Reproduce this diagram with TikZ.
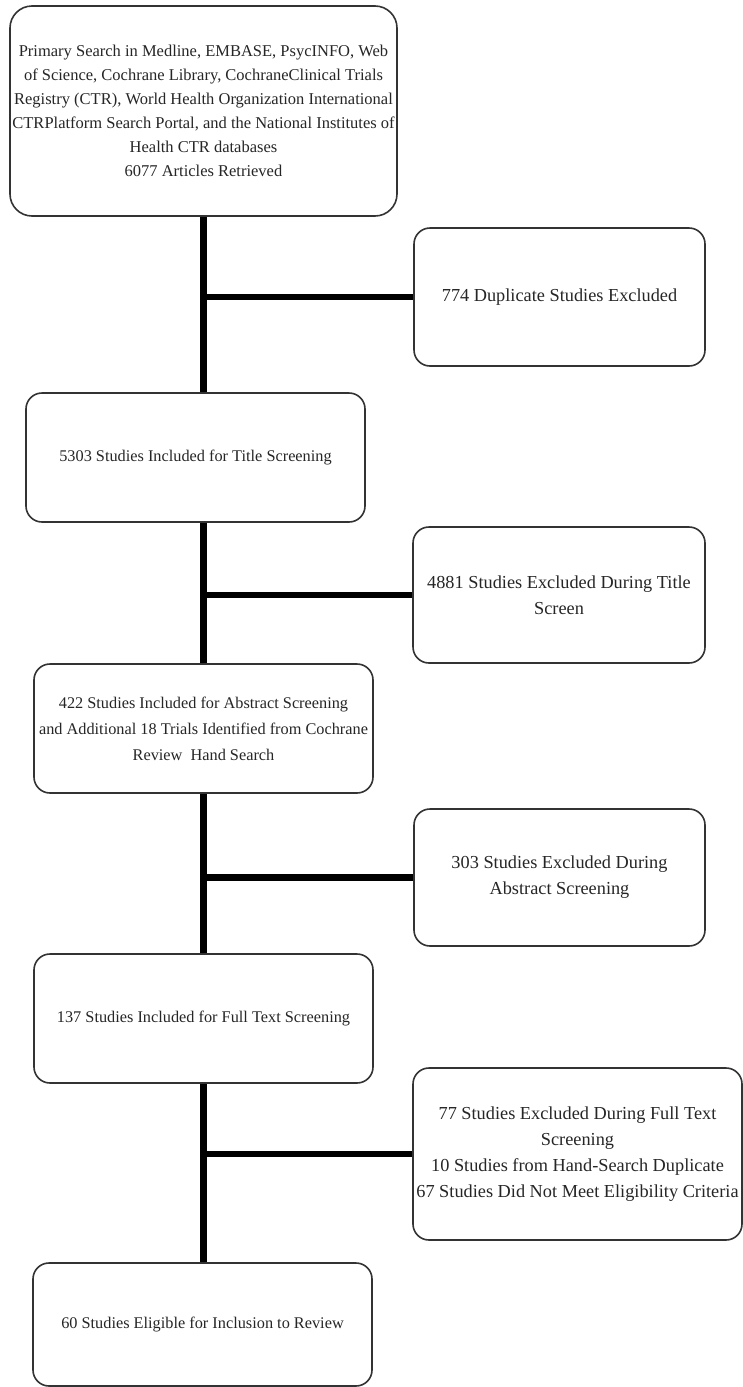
\documentclass[tikz,border=0pt]{standalone}
\usepackage{fontspec}
\setmainfont{Liberation Serif}
\begin{document}
\begin{tikzpicture}[x=1pt,y=-1pt,
  box/.style={draw=black!80, line width=1.6pt, rounded corners=16pt, fill=white,
    align=center, inner sep=1pt, text=black!85, anchor=center},
  leftfont/.style={font=\fontsize{16.3}{26}\selectfont},
  rightfont/.style={font=\fontsize{18.3}{26}\selectfont},
  conn/.style={line width=6.5pt, black}]
\useasboundingbox (0,0) rectangle (743,1387);
% boxes
\node[box, rounded corners=22pt, font=\fontsize{16.5}{24}\selectfont,
  minimum width=387pt, minimum height=210pt] (b1) at (203.5,111)
  {Primary Search in Medline, EMBASE, PsycINFO, Web\\
   of Science, Cochrane Library, CochraneClinical Trials\\
   Registry (CTR), World Health Organization International\\
   CTRPlatform Search Portal, and the National Institutes of\\
   Health CTR databases\\
   6077 Articles Retrieved};
\node[box, rightfont, minimum width=291pt, minimum height=138pt] (b2) at (559.5,297)
  {774 Duplicate Studies Excluded};
\node[box, leftfont, minimum width=339pt, minimum height=129pt] (b3) at (195.5,457.5)
  {5303 Studies Included for Title Screening};
\node[box, rightfont, minimum width=292pt, minimum height=136pt] (b4) at (559,595)
  {4881 Studies Excluded During Title\\ Screen};
\node[box, leftfont, minimum width=339pt, minimum height=129pt] (b5) at (203.5,728.5)
  {422 Studies Included for Abstract Screening\\
   and Additional 18 Trials Identified from Cochrane\\
   Review\ \ Hand Search};
\node[box, rightfont, minimum width=291pt, minimum height=137pt] (b6) at (559.5,877.5)
  {303 Studies Excluded During\\ Abstract Screening};
\node[box, leftfont, minimum width=339pt, minimum height=129pt] (b7) at (203.5,1018.5)
  {137 Studies Included for Full Text Screening};
\node[box, rightfont, minimum width=329pt, minimum height=172pt] (b8) at (577.5,1154)
  {77 Studies Excluded During Full Text\\ Screening\\
   10 Studies from Hand-Search Duplicate\\
   67 Studies Did Not Meet Eligibility Criteria};
\node[box, leftfont, minimum width=339pt, minimum height=123pt] (b9) at (202.5,1324.5)
  {60 Studies Eligible for Inclusion to Review};
% spine junctions
\coordinate (j1) at (b1.south |- b2.west);
\coordinate (j2) at (b1.south |- b4.west);
\coordinate (j3) at (b1.south |- b6.west);
\coordinate (j4) at (b1.south |- b8.west);
% connectors
\draw[conn] (b1.south) -- (b1.south |- b3.north);
\draw[conn] (j1) -- (b2.west);
\draw[conn] (b1.south |- b3.south) -- (b1.south |- b5.north);
\draw[conn] (j2) -- (b4.west);
\draw[conn] (b5.south) -- (b7.north);
\draw[conn] (j3) -- (b6.west);
\draw[conn] (b7.south) -- (b7.south |- b9.north);
\draw[conn] (j4) -- (b8.west);
\end{tikzpicture}
\end{document}
